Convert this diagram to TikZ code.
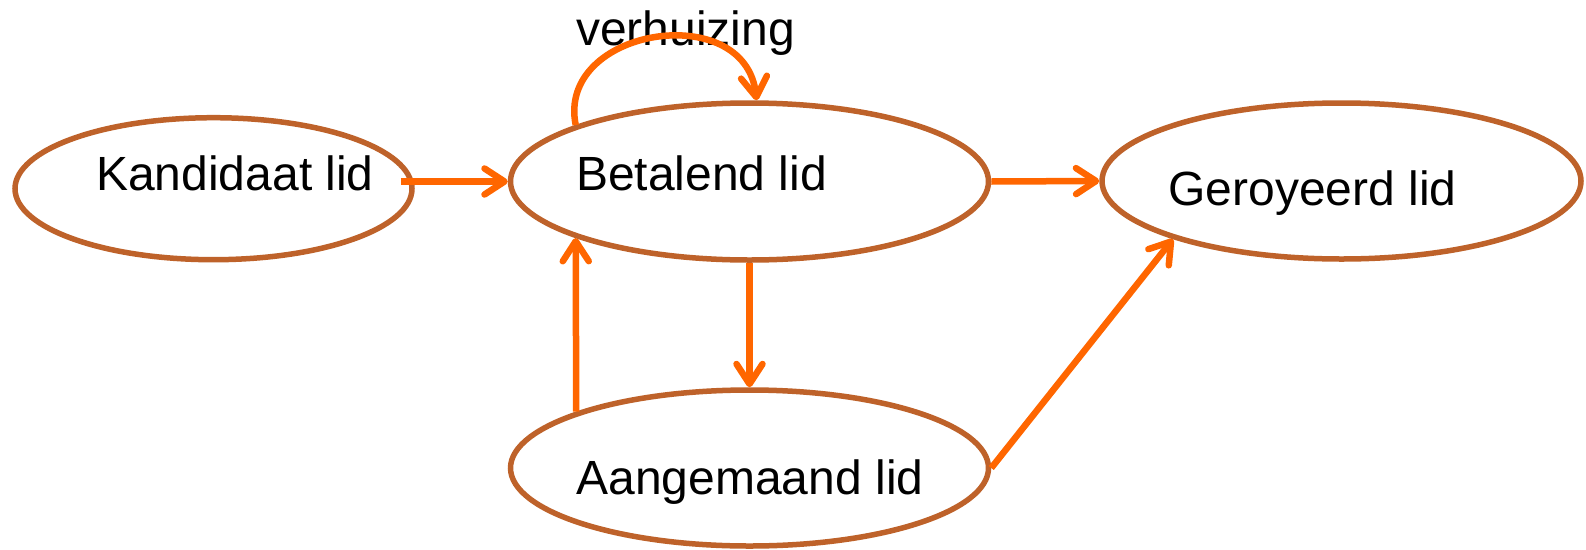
\documentclass[tikz,border=0pt]{standalone}
\usepackage{fontspec}
\setmainfont{Liberation Sans}
\usetikzlibrary{shapes.geometric,arrows.meta}
\definecolor{rimbrown}{RGB}{190,98,42}
\definecolor{flow}{RGB}{255,102,0}
\tikzset{
  state/.style={draw=rimbrown, line width=5.5pt, ellipse, inner sep=0pt, fill=white},
  lbl/.style={anchor=base, inner sep=0pt, font=\fontsize{48}{58}\selectfont},
  trans/.style={draw=flow, line width=6.5pt, line cap=butt,
    -{Straight Barb[round,length=20pt,width=26pt,line width=6.5pt]}}
}
\begin{document}
\begin{tikzpicture}[x=1pt,y=-1pt]
  \useasboundingbox (0,0) rectangle (1586,549);
  % states
  \node[state, minimum width=397pt, minimum height=142pt] (kand) at (213.5,188.7) {};
  \node[state, minimum width=478pt, minimum height=157pt] (bet) at (749.5,181.5) {};
  \node[state, minimum width=479pt, minimum height=156pt] (ger) at (1341.5,181) {};
  \node[state, minimum width=478pt, minimum height=156pt] (aan) at (749.5,468) {};
  % state names
  \node[lbl] (tkand) at (235,190) {Kandidaat lid};
  \node[lbl] (tbet) at (701.5,190) {Betalend lid};
  \node[lbl] (tger) at (1312.5,205) {Geroyeerd lid};
  \node[lbl] (taan) at (750,494) {Aangemaand lid};
  \node[lbl] (tverh) at (685.5,45) {verhuizing};
  % transitions
  \draw[trans] ([xshift=-14pt]kand.east |- bet.west) -- (bet.west);
  \draw[trans] (bet.east) -- (ger.west);
  \draw[trans] (bet.south) -- (aan.north);
  \draw[trans] (aan.162) -- (bet.198);
  \draw[trans] (aan.east) -- (ger.199);
  \draw[trans] (bet.162) .. controls (556,28) and (745,-2) .. (bet.85);
\end{tikzpicture}
\end{document}
